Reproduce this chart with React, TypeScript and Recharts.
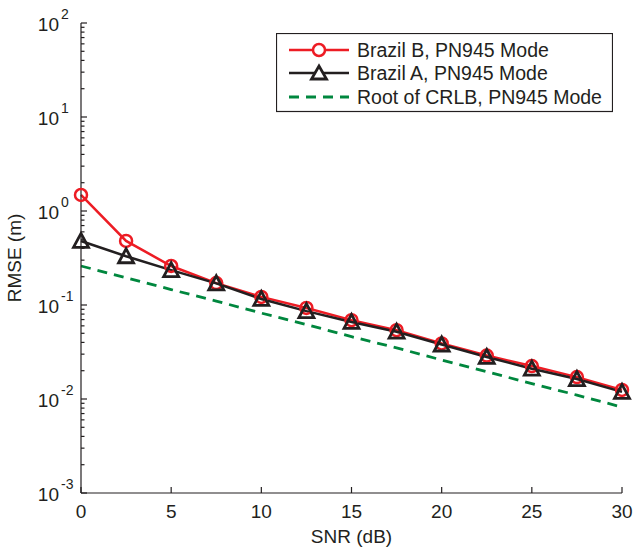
import React from 'react';
import { LineChart, Line, XAxis, YAxis, Legend } from 'recharts';

const snr = [0, 2.5, 5, 7.5, 10, 12.5, 15, 17.5, 20, 22.5, 25, 27.5, 30];
const brazilB = [1.48, 0.48, 0.26, 0.171, 0.122, 0.093, 0.069, 0.054, 0.039, 0.029, 0.0224, 0.0171, 0.0125];
const brazilA = [0.48, 0.33, 0.235, 0.17, 0.116, 0.086, 0.066, 0.052, 0.038, 0.028, 0.021, 0.0163, 0.0119];
const crlb = [0.26, 0.195, 0.146, 0.11, 0.082, 0.062, 0.046, 0.035, 0.026, 0.0195, 0.0146, 0.011, 0.0082];

const xTicks = [0, 5, 10, 15, 20, 25, 30];
const yExponents = [-3, -2, -1, 0, 1, 2];
const minorMultipliers = [2, 3, 4, 5, 6, 7, 8, 9];

const seriesNames = ['Brazil B, PN945 Mode', 'Brazil A, PN945 Mode', 'Root of CRLB, PN945 Mode'];

const RED = '#ed1c24';
const BLACK = '#231f20';
const GREEN = '#00873e';
const FONT = '"Liberation Sans", Arial, Helvetica, sans-serif';

const data = snr.map((s, i) => ({ snr: s, b: brazilB[i], a: brazilA[i], c: crlb[i] }));

const yTicks: number[] = [];
yExponents.forEach((e, idx) => {
  yTicks.push(Math.pow(10, e));
  if (idx < yExponents.length - 1) {
    minorMultipliers.forEach((m) => yTicks.push(m * Math.pow(10, e)));
  }
});

const isMajor = (v: number) => {
  const l = Math.log10(v);
  return Math.abs(l - Math.round(l)) < 1e-6;
};

const LeftTick = (props: any) => {
  const { x, y, payload } = props;
  const v = payload.value;
  const major = isMajor(v);
  const len = major ? 6 : 3.5;
  const e = Math.round(Math.log10(v));
  return (
    <g>
      <line x1={x} x2={x + len} y1={y} y2={y} stroke={BLACK} strokeWidth={1.2} />
      {major && (
        <g fontFamily={FONT} fill={BLACK}>
          <text x={x - 22} y={y + 8} textAnchor="end" fontSize={19}>10</text>
          <text x={x - 20} y={y - 4} textAnchor="start" fontSize={14}>{String(e)}</text>
        </g>
      )}
    </g>
  );
};

const RightTick = (props: any) => {
  const { x, y, payload } = props;
  const len = isMajor(payload.value) ? 6 : 3.5;
  return <line x1={x} x2={x - len} y1={y} y2={y} stroke={BLACK} strokeWidth={1.2} />;
};

const BottomTick = (props: any) => {
  const { x, y, payload } = props;
  return (
    <g>
      <line x1={x} x2={x} y1={y} y2={y - 6} stroke={BLACK} strokeWidth={1.2} />
      <text x={x} y={y + 25} textAnchor="middle" fontSize={19} fontFamily={FONT} fill={BLACK}>
        {String(payload.value)}
      </text>
    </g>
  );
};

const TopTick = (props: any) => {
  const { x, y } = props;
  return <line x1={x} x2={x} y1={y} y2={y + 6} stroke={BLACK} strokeWidth={1.2} />;
};

const CircleDot = (props: any) => {
  const { cx, cy } = props;
  if (cx == null || cy == null) return null;
  return <circle cx={cx} cy={cy} r={6} fill="none" stroke={RED} strokeWidth={2.5} />;
};

const TriangleDot = (props: any) => {
  const { cx, cy } = props;
  if (cx == null || cy == null) return null;
  const w = 7.5;
  const h = 13;
  const pts = `${cx - w},${cy + h / 2} ${cx + w},${cy + h / 2} ${cx},${cy - h / 2 - 1}`;
  return <polygon points={pts} fill="none" stroke={BLACK} strokeWidth={2.8} strokeLinejoin="miter" />;
};

const renderLegend = () => {
  const rows = [17, 40, 64];
  return (
    <svg width={337} height={80} style={{ display: 'block' }}>
      <rect x={0.5} y={0.5} width={336} height={78} fill="#fff" stroke={BLACK} strokeWidth={1.2} />
      <line x1={13} x2={73} y1={rows[0]} y2={rows[0]} stroke={RED} strokeWidth={2.5} />
      <circle cx={43} cy={rows[0]} r={6} fill="#fff" stroke={RED} strokeWidth={2.5} />
      <line x1={13} x2={73} y1={rows[1]} y2={rows[1]} stroke={BLACK} strokeWidth={2.5} />
      <polygon
        points={`${43 - 7.5},${rows[1] + 6} ${43 + 7.5},${rows[1] + 6} ${43},${rows[1] - 7}`}
        fill="#fff"
        stroke={BLACK}
        strokeWidth={2.8}
      />
      <line x1={13} x2={73} y1={rows[2]} y2={rows[2]} stroke={GREEN} strokeWidth={2.8} strokeDasharray="10 7" />
      {seriesNames.map((n, i) => (
        <text key={n} x={81} y={rows[i] + 7} fontSize={19.5} fontFamily={FONT} fill={BLACK}>
          {n}
        </text>
      ))}
    </svg>
  );
};

export default function App() {
  return (
    <div style={{ position: 'absolute', left: 0, top: 0, background: '#fff' }}>
      <LineChart width={635} height={548} data={data} margin={{ top: 23, right: 13, bottom: 0, left: 0 }}>
        <XAxis
          xAxisId="bottom"
          dataKey="snr"
          type="number"
          domain={[0, 30]}
          ticks={xTicks}
          interval={0}
          height={55}
          tickLine={false}
          tickSize={0}
          tickMargin={0}
          tick={<BottomTick />}
          axisLine={{ stroke: BLACK, strokeWidth: 1.2 }}
          label={{ value: 'SNR (dB)', position: 'insideBottom', offset: 5, fontSize: 19, fontFamily: FONT, fill: BLACK }}
        />
        <XAxis
          xAxisId="top"
          orientation="top"
          dataKey="snr"
          type="number"
          domain={[0, 30]}
          ticks={xTicks}
          interval={0}
          height={0}
          tickLine={false}
          tickSize={0}
          tickMargin={0}
          tick={<TopTick />}
          axisLine={{ stroke: BLACK, strokeWidth: 1.2 }}
        />
        <YAxis
          yAxisId="left"
          scale="log"
          type="number"
          domain={[0.001, 100]}
          allowDataOverflow
          ticks={yTicks}
          interval={0}
          width={81}
          tickLine={false}
          tickSize={0}
          tickMargin={0}
          tick={<LeftTick />}
          axisLine={{ stroke: BLACK, strokeWidth: 1.2 }}
          label={{
            value: 'RMSE (m)',
            angle: -90,
            position: 'insideLeft',
            offset: 14,
            fontSize: 19,
            fontFamily: FONT,
            fill: BLACK,
            style: { textAnchor: 'middle' },
          }}
        />
        <YAxis
          yAxisId="right"
          orientation="right"
          scale="log"
          type="number"
          domain={[0.001, 100]}
          allowDataOverflow
          ticks={yTicks}
          interval={0}
          width={0}
          tickLine={false}
          tickSize={0}
          tickMargin={0}
          tick={<RightTick />}
          axisLine={{ stroke: BLACK, strokeWidth: 1.2 }}
        />
        <Legend
          layout="vertical"
          align="center"
          verticalAlign="middle"
          content={renderLegend}
          wrapperStyle={{ position: 'absolute', left: 276, top: 33, width: 337, height: 80 }}
        />
        <Line
          xAxisId="bottom"
          yAxisId="left"
          dataKey="c"
          name={seriesNames[2]}
          stroke={GREEN}
          strokeWidth={2.8}
          strokeDasharray="10 7"
          dot={false}
          activeDot={false}
          isAnimationActive={false}
        />
        <Line
          xAxisId="bottom"
          yAxisId="left"
          dataKey="b"
          name={seriesNames[0]}
          stroke={RED}
          strokeWidth={2.5}
          dot={<CircleDot />}
          activeDot={false}
          isAnimationActive={false}
        />
        <Line
          xAxisId="bottom"
          yAxisId="left"
          dataKey="a"
          name={seriesNames[1]}
          stroke={BLACK}
          strokeWidth={2.5}
          dot={<TriangleDot />}
          activeDot={false}
          isAnimationActive={false}
        />
      </LineChart>
    </div>
  );
}
